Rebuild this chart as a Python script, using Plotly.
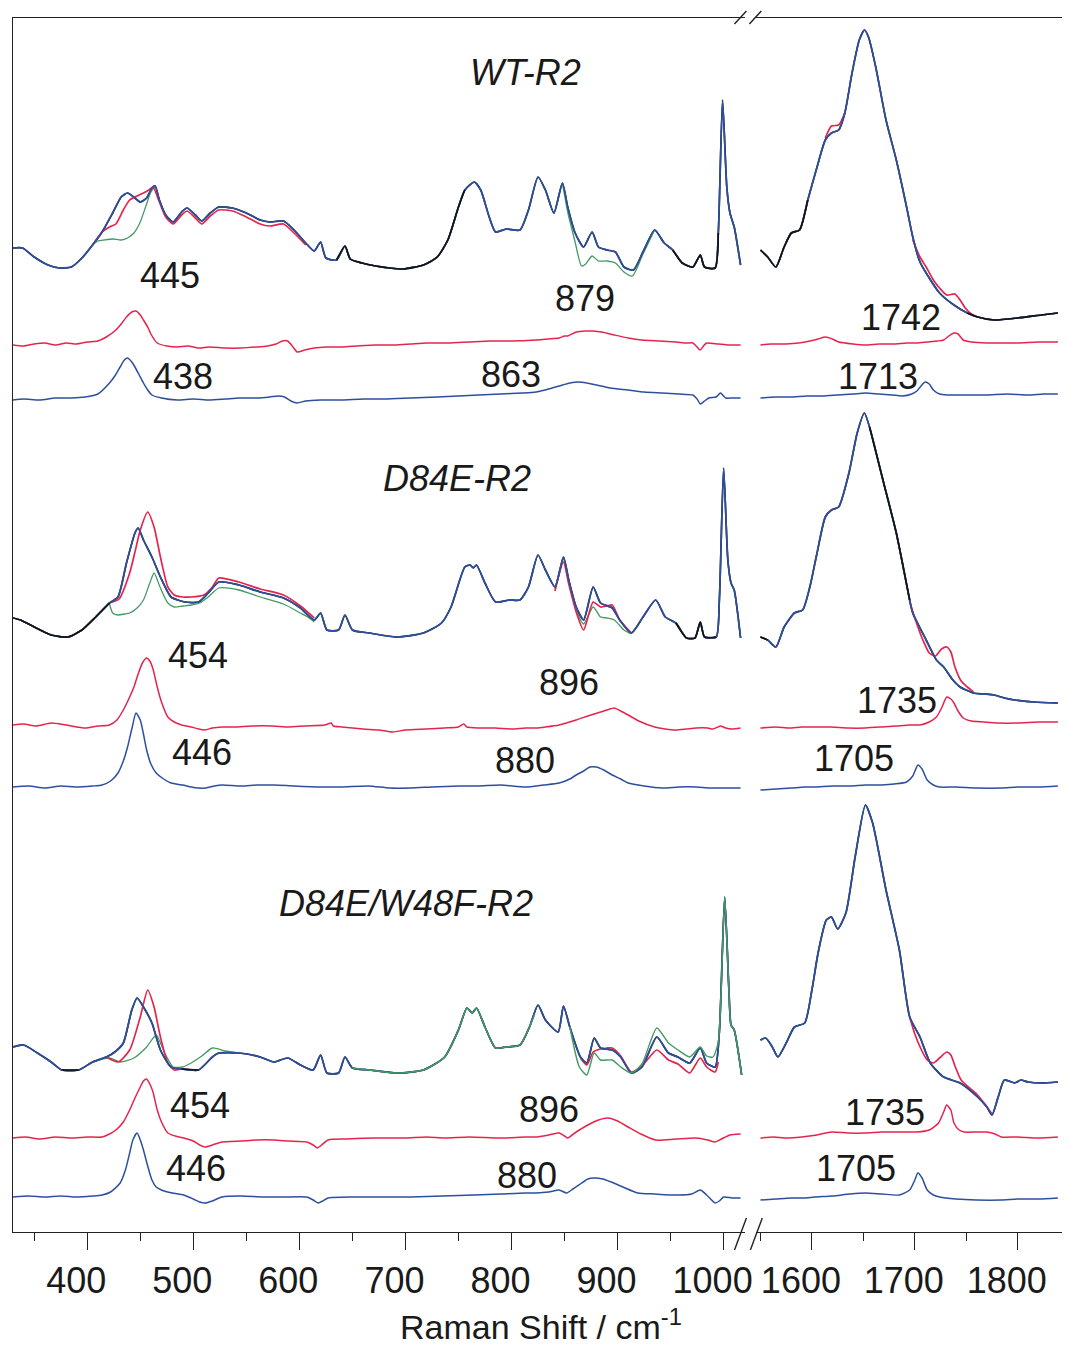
import plotly.graph_objects as go

# ---------------- data: (wavenumber / cm-1, intensity / a.u.) ----------------
# ---- WT-R2 ----
WT_MAIN_L = [(330,984),(339,984),(350,975),(363,967),(374,964),(385,965),(395,974),(405,987),(414,1000),(424,1019),
 (432,1035),(438,1039),(445,1034),(450,1030),(456,1034),(461,1044),(464,1046),(468,1032),(474,1017),(481,1010),
 (489,1020),(494,1024),(502,1017),(508,1011),(516,1019),(524,1025),(537,1024),(550,1019),(563,1012),(572,1010),
 (585,1011),(595,1002),(606,989),(614,981),(620,990),(625,974),(635,972),(643,986),(648,973),(659,969),(672,966),
 (685,964),(698,963),(717,967),(730,975),(740,992),(750,1025),(756,1042),(765,1050),(771,1042),(779,1015),(785,1000),
 (795,1003),(808,1002),(816,1022),(825,1055),(832,1042),(840,1019),(848,1049),(853,1025),(860,999),(868,985),
 (876,1000),(882,985),(890,982),(898,980),(906,965),(915,962),(924,980),(935,1002),(944,989),(952,982),(961,969),
 (971,965),(978,977),(982,965),(992,964),(995,999),(999,1132),(1003,1045),(1006,1019),(1010,1005),(1016,967)]
WT_MAIN_R = [(1550,982),(1557,975),(1565,965),(1573,985),(1580,999),(1588,1002),(1596,1032),(1605,1065),(1613,1092),
 (1619,1099),(1626,1102),(1632,1119),(1639,1159),(1646,1192),(1651,1202),(1655,1195),(1662,1165),(1672,1112),
 (1682,1072),(1692,1025),(1698,995),(1705,970),(1711,959),(1724,939),(1738,927),(1751,919),(1761,915),(1777,912),
 (1800,914),(1823,917),(1839,919)]
WT_RED_L = [(405,987),(414,1000),(421,1005),(427,1008),(434,1022),(440,1032),(447,1036),(453,1039),(458,1042),(462,1045),
 (468,1030),(474,1015),(481,1008),(489,1017),(494,1021),(502,1014),(508,1008),(516,1016),(524,1022),(537,1021),
 (550,1015),(563,1008),(572,1006),(585,1008),(595,999),(606,987)]
WT_GREEN_L = [(405,987),(410,991),(416,992),(424,993),(432,992),(438,994),(444,999),(450,1010),(455,1025),(460,1040),(464,1046)]
WT_GREEN_L2 = [(848,1049),(853,1020),(860,990),(866,966),(870,968),(876,976),(882,971),(890,971),(898,969),(906,960),
 (914,956),(924,978),(935,1002)]
WT_RED_R1 = [(1613,1094),(1619,1106),(1626,1107),(1632,1119)]
WT_RED_R2 = [(1698,992),(1705,975),(1711,965),(1718,952),(1724,944),(1731,937),(1739,938),(1744,932),(1749,924),(1755,918),(1761,915)]
WT_DRED_L = [(330,887),(340,886),(350,888),(360,889),(370,887),(380,889),(390,888),(400,890),(410,891),(418,895),(427,902),
 (432,908),(437,915),(442,920),(446,921),(450,917),(453,912),(457,905),(460,898),(466,889),(475,886),(485,885),(495,886),
 (505,884),(515,885),(530,884),(545,884),(560,885),(570,886),(578,888),(584,891),(589,891),(594,885),(598,880),(605,882),
 (614,884),(625,885),(640,885),(655,886),(672,887),(690,887),(705,888),(720,889),(740,889),(760,890),(780,891),(800,891),
 (823,892),(835,893),(845,894),(850,896),(853,896),(861,900),(870,901),(877,901),(885,900),(897,897),(910,894),(923,892),
 (940,891),(955,890),(965,889),(971,889),(975,885),(978,882),(981,886),(984,889),(995,888),(1005,887),(1016,887)]
WT_DRED_R = [(1550,887),(1560,888),(1575,888),(1587,889),(1598,891),(1606,893),(1613,895),(1620,893),(1626,890),(1640,888),
 (1652,887),(1665,888),(1680,888),(1692,889),(1702,889),(1712,890),(1722,891),(1728,892),(1733,896),(1738,899),(1742,898),
 (1747,892),(1755,890),(1770,889),(1784,889),(1800,889),(1820,890),(1839,890)]
WT_DBLUE_L = [(330,832),(340,833),(355,832),(370,834),(385,834),(398,835),(410,838),(421,849),(426,856),(431,865),(435,872),
 (438,874),(442,870),(445,865),(449,857),(453,849),(457,842),(461,837),(470,834),(485,832),(500,833),(515,832),(530,833),
 (543,834),(560,834),(572,835),(580,836),(586,835),(592,831),(598,829),(606,831),(620,832),(640,832),(660,833),(680,833),
 (705,834),(730,835),(750,836),(769,837),(790,838),(810,839),(823,840),(835,843),(845,846),(855,849),(863,850),(871,849),
 (880,847),(893,844),(910,842),(925,840),(942,839),(958,838),(971,837),(975,833),(978,828),(982,831),(986,834),(993,835),
 (997,839),(1000,836),(1002,834),(1008,834),(1016,834)]
WT_DBLUE_R = [(1550,834),(1565,835),(1580,835),(1595,836),(1610,836),(1625,837),(1640,838),(1652,839),(1665,838),(1678,837),
 (1688,836),(1697,838),(1702,841),(1706,846),(1710,850),(1714,848),(1718,842),(1724,838),(1732,837),(1750,837),(1770,837),
 (1790,838),(1810,837),(1825,838),(1839,838)]

# ---- D84E-R2 ----
DE_MAIN_L = [(330,614),(337,612),(350,605),(366,597),(382,595),(395,602),(408,615),(421,629),(429,635),(437,669),(445,699),
 (448,704),(453,692),(461,675),(469,655),(479,635),(492,630),(505,630),(514,639),(524,650),(543,647),(563,640),(585,634),
 (601,624),(614,612),(620,619),(626,602),(637,602),(643,617),(650,602),(666,599),(692,595),(717,599),(734,609),(743,625),
 (756,665),(761,667),(764,664),(767,667),(775,649),(785,630),(798,632),(808,632),(816,645),(825,677),(832,662),(841,645),
 (849,675),(854,652),(861,625),(868,612),(877,645),(884,629),(895,624),(902,612),(913,599),(924,615),(936,632),(945,615),
 (955,609),(965,594),(973,594),(978,610),(982,595),(993,595),(996,632),(1000,764),(1004,672),(1007,649),(1010,642),(1016,594)]
DE_MAIN_R = [(1550,595),(1557,592),(1565,585),(1573,605),(1583,619),(1591,622),(1598,645),(1605,679),(1613,715),(1619,722),
 (1626,725),(1636,759),(1644,799),(1651,819),(1656,805),(1669,752),(1682,699),(1695,632),(1698,619),(1711,592),(1721,572),
 (1728,565),(1737,552),(1744,545),(1757,539),(1767,538),(1777,537),(1787,534),(1797,532),(1816,530),(1839,529)]
DE_RED_L = [(421,629),(430,633),(440,659),(445,680),(450,702),(457,720),(463,705),(469,675),(476,645),(482,637),(490,635),
 (498,635),(510,637),(518,645),(524,654),(543,650),(563,643),(585,637),(601,626),(614,614)]
DE_GREEN_L = [(421,628),(424,619),(429,617),(435,618),(440,619),(447,624),(453,632),(459,649),(463,659),(469,644),(476,629),
 (482,625),(490,626),(498,627),(506,629),(514,635),(524,644),(543,642),(563,635),(585,628),(601,619),(608,615),(614,610)]
DE_RED_L2 = [(841,641),(849,670),(854,648),(861,620),(868,602),(877,630),(884,625),(890,626),(895,627),(902,612),(913,599)]
DE_GREEN_L2 = [(841,643),(849,673),(854,650),(861,622),(868,608),(877,625),(884,615),(890,614),(897,612),(906,602),(913,598)]
DE_RED_R = [(1695,630),(1700,614),(1707,594),(1714,579),(1720,576),(1726,583),(1731,585),(1735,580),(1739,565),(1745,551),
 (1751,545),(1757,540)]
DE_DRED_L = [(330,507),(340,508),(352,506),(366,509),(380,507),(398,504),(410,506),(421,507),(428,512),(434,522),(440,535),
 (444,545),(448,558),(452,569),(456,574),(459,571),(462,563),(466,545),(470,530),(476,515),(482,510),(489,507),(498,505),
 (505,503),(511,502),(518,504),(527,505),(540,505),(555,506),(575,506),(590,505),(605,506),(624,507),(630,509),(632,506),
 (640,505),(660,503),(675,502),(688,500),(700,502),(720,503),(737,504),(750,505),(755,508),(758,505),(770,504),(785,504),
 (800,503),(813,504),(823,504),(832,505),(845,507),(861,512),(872,516),(881,519),(890,522),(897,524),(903,521),(910,517),
 (920,511),(935,505),(945,503),(955,502),(965,503),(974,504),(985,504),(990,503),(997,506),(1002,504),(1008,503),(1016,504)]
DE_DRED_R = [(1550,504),(1565,505),(1578,504),(1590,505),(1605,505),(1619,505),(1635,504),(1652,504),(1668,505),(1682,506),
 (1695,507),(1705,507),(1714,510),(1721,515),(1726,524),(1731,535),(1735,533),(1738,529),(1742,521),(1747,514),(1755,511),
 (1767,510),(1780,509),(1800,509),(1820,510),(1839,510)]
DE_DBLUE_L = [(330,445),(345,446),(360,444),(375,446),(390,445),(405,446),(414,447),(422,451),(429,459),(434,471),(438,485),
 (442,503),(446,519),(450,512),(453,498),(456,482),(460,468),(465,459),(472,453),(479,449),(490,447),(498,445),(505,444),
 (512,444),(520,446),(527,447),(545,446),(560,447),(576,447),(595,446),(620,445),(640,445),(665,446),(685,444),(705,444),
 (725,445),(750,446),(769,446),(790,447),(813,445),(830,447),(845,449),(855,453),(861,457),(868,461),(874,465),(880,465),
 (887,462),(895,457),(903,453),(910,449),(925,446),(942,444),(958,445),(974,445),(987,444),(1000,444),(1016,444)]
DE_DBLUE_R = [(1550,442),(1565,443),(1580,444),(1593,445),(1603,445),(1620,446),(1637,446),(1652,447),(1668,447),(1680,448),
 (1692,450),(1698,456),(1703,467),(1707,463),(1712,452),(1718,447),(1724,445),(1740,445),(1760,444),(1784,444),(1800,445),
 (1820,445),(1839,446)]

# ---- D84E/W48F-R2 ----
DW_MAIN_L = [(330,185),(340,187),(353,179),(366,170),(376,162),(392,162),(405,170),(418,175),(426,180),(434,189),(442,222),
 (447,234),(453,225),(461,209),(469,182),(479,165),(489,163),(505,162),(518,175),(524,179),(543,179),(563,175),(576,170),
 (589,174),(601,167),(613,162),(620,177),(626,159),(637,159),(643,175),(650,164),(666,162),(692,159),(717,162),(737,175),
 (750,202),(758,224),(763,219),(767,224),(775,205),(785,184),(795,185),(808,187),(817,205),(825,227),(832,212),(844,200),
 (849,226),(855,205),(865,175),(871,169),(878,194),(884,184),(895,182),(903,175),(913,159),(923,165),(937,195),(948,179),
 (957,175),(968,169),(978,184),(984,169),(992,165),(996,200),(1001,335),(1005,242),(1007,207),(1010,202),(1017,157)]
DW_MAIN_R = [(1550,192),(1555,194),(1561,186),(1567,175),(1575,189),(1583,205),(1593,209),(1600,242),(1606,279),(1614,312),
 (1619,315),(1625,303),(1633,319),(1642,375),(1652,427),(1659,409),(1672,342),(1685,282),(1695,215),(1705,195),(1715,169),
 (1728,155),(1744,149),(1761,135),(1770,125),(1775,117),(1781,135),(1787,152),(1797,149),(1803,152),(1810,150),(1823,149),
 (1839,150)]
DW_RED_L = [(418,175),(429,170),(440,182),(450,215),(457,242),(463,225),(469,195),(476,169),(482,162),(489,163)]
DW_RED_L2 = [(865,174),(871,167),(877,180),(884,183),(890,184),(895,184),(903,176),(913,160),(923,166),(937,182),(948,172),
 (957,168),(968,159),(978,174),(984,165),(992,160),(995,170)]
DW_GREEN_L = [(410,172),(421,174),(431,170),(444,174),(456,185),(465,197),(473,179),(481,165),(490,165),(498,169),(508,176),
 (518,184),(530,181),(543,179)]
DW_GREEN_L2 = [(650,164),(666,162),(692,159),(717,162),(737,175),(750,202),(758,224),(763,219),(767,224),(775,205),(785,184),
 (795,185),(808,187),(817,205),(822,218)]
DW_GREEN_L3 = [(855,205),(864,165),(871,157),(878,179),(884,172),(895,172),(903,165),(913,159),(923,168),(937,204),(948,189),
 (957,182),(968,175),(978,185),(984,176),(990,175),(995,190),(1001,335),(1005,242),(1007,207),(1010,202),(1017,157)]
DW_RED_R = [(1695,215),(1700,198),(1706,183),(1712,172),(1718,169),(1724,174),(1731,180),(1735,177),(1739,166),(1745,152),
 (1752,145),(1760,138),(1768,128),(1775,118)]
DW_DRED_L = [(330,94),(342,95),(355,93),(370,95),(385,94),(400,95),(414,95),(421,98),(427,102),(434,110),(440,122),(445,134),
 (450,145),(453,151),(456,153),(459,148),(462,140),(466,122),(470,110),(476,99),(483,96),(491,94),(500,91),(506,87),(511,85),
 (518,87),(527,90),(545,91),(560,92),(576,92),(590,91),(607,90),(613,87),(617,84),(621,87),(627,92),(645,93),(672,94),
 (700,94),(720,95),(737,94),(760,95),(790,94),(813,95),(823,95),(835,97),(845,99),(850,96),(853,94),(861,100),(872,107),
 (882,112),(891,114),(900,111),(910,105),(922,98),(936,92),(955,93),(974,94),(985,92),(992,90),(998,93),(1006,97),(1016,98)]
DW_DRED_R = [(1550,94),(1563,95),(1575,94),(1590,95),(1605,97),(1619,100),(1635,99),(1652,99),(1668,100),(1685,100),(1702,100),
 (1714,102),(1723,109),(1728,120),(1731,127),(1735,122),(1738,109),(1743,102),(1748,100),(1760,100),(1770,100),(1778,98),
 (1784,95),(1800,95),(1820,94),(1839,95)]
DW_DBLUE_L = [(330,35),(345,36),(360,35),(375,36),(390,35),(405,36),(414,37),(422,40),(431,49),(436,62),(440,79),(443,92),
 (447,99),(450,92),(453,82),(457,66),(461,52),(465,45),(470,42),(480,39),(491,37),(500,33),(506,30),(511,29),(518,31),(527,35),
 (545,36),(565,35),(585,35),(607,35),(613,32),(618,29),(622,31),(627,34),(650,35),(680,35),(705,35),(735,36),(765,37),(790,38),
 (813,39),(823,39),(835,40),(845,42),(852,39),(858,43),(865,48),(872,53),(878,54),(886,53),(894,50),(905,45),(919,39),(935,38),
 (957,37),(970,38),(978,42),(984,37),(992,29),(996,31),(1000,35),(1008,34),(1016,34)]
DW_DBLUE_R = [(1550,32),(1565,33),(1580,34),(1592,34),(1603,35),(1620,36),(1637,38),(1652,39),(1668,38),(1685,37),(1695,42),
 (1700,52),(1703,59),(1707,54),(1712,42),(1718,37),(1724,35),(1740,33),(1760,32),(1784,32),(1800,33),(1820,33),(1839,34)]

# ---- annotations: text, wavenumber position, intensity position, axis, italic ----
LABEL_TEXT = ["WT-R2", "445", "879", "1742", "438", "863", "1713",
              "D84E-R2", "454", "896", "1735", "446", "880", "1705",
              "D84E/W48F-R2", "454", "896", "1735", "446", "880", "1705"]
LABEL_X = [813, 478, 869, 1687, 490, 800, 1664,
           749, 504, 854, 1683, 508, 813, 1641,
           701, 506, 835, 1671, 503, 815, 1643]
LABEL_Y = [1160, 957, 934, 915, 856, 858, 856,
           754, 577, 550, 532, 480, 472, 474,
           329, 127, 123, 120, 64, 57, 64]
LABEL_AXIS = ["x", "x", "x", "x2", "x", "x", "x2",
              "x", "x", "x", "x2", "x", "x", "x2",
              "x", "x", "x", "x2", "x", "x", "x2"]
LABEL_ITALIC = [True, False, False, False, False, False, False,
                True, False, False, False, False, False, False,
                True, False, False, False, False, False, False]

TICKS_L = [400, 500, 600, 700, 800, 900, 1000]
TICKS_R = [1600, 1700, 1800]
RANGE_L = [330, 1020]
RANGE_R = [1546, 1843]
Y_RANGE = [0, 1214]

BLUE = "#2c4f9e"
RED = "#e5244c"
GREEN = "#449a62"
BLACK = "#141414"
FONT = "Liberation Sans, Arial, sans-serif"

fig = go.Figure()


def seg(pts, lo, hi):
    return [p for p in pts if lo <= p[0] <= hi]


def add(pts, axis, color, width=1.7):
    fig.add_trace(go.Scatter(x=[p[0] for p in pts], y=[p[1] for p in pts], mode="lines",
                             line=dict(color=color, width=width, shape="spline", smoothing=0.6),
                             xaxis=axis, yaxis="y", showlegend=False, hoverinfo="skip"))


# WT
add(WT_MAIN_L, "x", BLACK); add(WT_MAIN_R, "x2", BLACK)
add(WT_GREEN_L, "x", GREEN, 1.3); add(WT_GREEN_L2, "x", GREEN, 1.3)
add(WT_RED_L, "x", RED); add(WT_RED_R1, "x2", RED); add(WT_RED_R2, "x2", RED)
add(WT_MAIN_L, "x", BLUE); add(WT_MAIN_R, "x2", BLUE)
add(seg(WT_MAIN_L, 630, 760), "x", BLACK); add(seg(WT_MAIN_L, 952, 995), "x", BLACK)
add(seg(WT_MAIN_R, 1550, 1600), "x2", BLACK); add(seg(WT_MAIN_R, 1751, 1839), "x2", BLACK)
add(WT_DRED_L, "x", RED, 1.5); add(WT_DRED_R, "x2", RED, 1.5)
add(WT_DBLUE_L, "x", BLUE, 1.5); add(WT_DBLUE_R, "x2", BLUE, 1.5)

# D84E
add(DE_MAIN_L, "x", BLACK); add(DE_MAIN_R, "x2", BLACK)
add(DE_GREEN_L, "x", GREEN, 1.3); add(DE_GREEN_L2, "x", GREEN, 1.3)
add(DE_RED_L, "x", RED); add(DE_RED_L2, "x", RED); add(DE_RED_R, "x2", RED)
add(DE_MAIN_L, "x", BLUE); add(DE_MAIN_R, "x2", BLUE)
add(seg(DE_MAIN_L, 330, 425), "x", BLACK); add(seg(DE_MAIN_L, 955, 993), "x", BLACK)
add(seg(DE_MAIN_R, 1550, 1560), "x2", BLACK); add(seg(DE_MAIN_R, 1656, 1695), "x2", BLACK)
add(DE_DRED_L, "x", RED, 1.5); add(DE_DRED_R, "x2", RED, 1.5)
add(DE_DBLUE_L, "x", BLUE, 1.5); add(DE_DBLUE_R, "x2", BLUE, 1.5)

# D84E/W48F
add(DW_MAIN_L, "x", BLACK); add(DW_MAIN_R, "x2", BLACK)
add(DW_GREEN_L, "x", GREEN, 1.3)
add(DW_RED_L, "x", RED); add(DW_RED_L2, "x", RED); add(DW_RED_R, "x2", RED)
add(DW_MAIN_L, "x", BLUE); add(DW_MAIN_R, "x2", BLUE)
add(seg(DW_MAIN_L, 370, 398), "x", BLACK); add(seg(DW_MAIN_L, 486, 508), "x", BLACK)
add(DW_GREEN_L2, "x", GREEN, 1.4); add(DW_GREEN_L3, "x", GREEN, 1.4)
add(DW_DRED_L, "x", RED, 1.5); add(DW_DRED_R, "x2", RED, 1.5)
add(DW_DBLUE_L, "x", BLUE, 1.5); add(DW_DBLUE_R, "x2", BLUE, 1.5)

for t, x, y, ax, it in zip(LABEL_TEXT, LABEL_X, LABEL_Y, LABEL_AXIS, LABEL_ITALIC):
    fig.add_annotation(text=f"<i>{t}</i>" if it else t, x=x, y=y, xref=ax, yref="y",
                       showarrow=False, xanchor="center", yanchor="middle",
                       font=dict(family=FONT, size=36, color="#1a1a1a"))

# plot area at x 13..1070, y 18..1232 of the window
PLOT_W = 1057


def px(xp):
    return (xp - 13) / PLOT_W


def py(yp):
    return (1232 - yp) / 1214


fig.add_annotation(text="Raman Shift / cm<sup>-1</sup>", xref="paper", yref="paper",
                   x=px(545), y=py(1324), showarrow=False, xanchor="center", yanchor="middle",
                   font=dict(family=FONT, size=34, color="#1a1a1a"))

axis_common = dict(showgrid=False, zeroline=False, showline=True, linecolor="#222", linewidth=1.4,
                   mirror=True, ticks="outside", ticklen=17, tickwidth=1.3, tickcolor="#222",
                   tickfont=dict(family=FONT, size=36, color="#1a1a1a"), ticklabelstandoff=0,
                   ticklabelshift=-11,
                   minor=dict(ticks="outside", ticklen=8, tickwidth=1.2, tickcolor="#222", dtick=50, showgrid=False),
                   anchor="y")

fig.update_layout(
    width=1070, height=1348,
    margin=dict(l=13, r=0, t=18, b=116),
    paper_bgcolor="white", plot_bgcolor="white",
    xaxis=dict(domain=[0, px(750.4)], range=RANGE_L, tickvals=TICKS_L, **axis_common),
    xaxis2=dict(domain=[px(762), 1.0], range=RANGE_R, tickvals=TICKS_R, **axis_common),
    yaxis=dict(range=Y_RANGE, showgrid=False, zeroline=False, showline=True, linecolor="#222",
               linewidth=1.4, ticks="", showticklabels=False),
)

for (x0, y0, x1, y1) in [(740, 1250, 752, 1218), (756, 1250, 768, 1218),
                         (740, 24, 752, 11), (755, 24, 767, 11)]:
    fig.add_shape(type="line", xref="paper", yref="paper", x0=px(x0), y0=py(y0), x1=px(x1), y1=py(y1),
                  line=dict(color="#222", width=1.4))

# remove the default page margin / scrollbars so the figure sits at the window's top-left corner
fig.write_html("out.html", config={"displayModeBar": False},
               post_script="document.body.style.margin='0';document.body.style.overflow='hidden';"
                           "document.documentElement.style.overflow='hidden';")
